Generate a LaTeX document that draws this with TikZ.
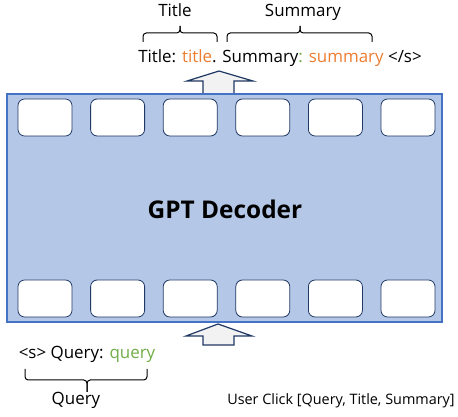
\documentclass[tikz,border=0pt]{standalone}
\usepackage{fontspec}
\setmainfont{Open Sans}
\usetikzlibrary{positioning}
\definecolor{decfill}{HTML}{B4C7E7}
\definecolor{decline}{HTML}{4472C4}
\definecolor{tokline}{HTML}{1F3864}
\definecolor{arrline}{HTML}{203864}
\definecolor{arrfill}{HTML}{F2F2F2}
\definecolor{orng}{HTML}{ED7D31}
\definecolor{grn}{HTML}{70AD47}
\tikzset{
  decoder/.style={draw=decline, fill=decfill, line width=1.2pt},
  token/.style={draw=tokline, fill=white, rounded corners=5pt, line width=0.6pt},
  blockarrow/.style={draw=arrline, fill=arrfill, line width=0.9pt},
  brk/.style={draw=black, line width=0.75pt, rounded corners=2.5pt},
  txt/.style={inner sep=0pt, anchor=base, font=\fontsize{12.7}{15}\selectfont},
  small/.style={inner sep=0pt, anchor=base, font=\fontsize{10.8}{13}\selectfont}
}
\begin{document}
\begin{tikzpicture}[x=0.75pt, y=-0.75pt]
  \useasboundingbox (0,0) rectangle (458,417);
  % decoder block
  \draw[decoder] (7,94) rectangle (442,322);
  \node[inner sep=0pt, font=\bfseries\fontsize{18.3}{21}\selectfont] (dec) at (225,209) {GPT Decoder};
  % token slots
  \foreach \i in {0,...,5} {
    \draw[token] (18+72.6*\i,99) rectangle ++(54,37);
    \draw[token] (18+72.6*\i,280) rectangle ++(54,37);
  }
  % block arrows
  \draw[blockarrow] (203,93) -- (203,81) -- (187,81) -- (219,71) -- (253,81) -- (234,81) -- (234,93);
  \draw[blockarrow] (203,345) -- (203,336) -- (186,336) -- (218,324) -- (252,336) -- (234,336) -- (234,345) -- cycle;
  % output sequence
  \node[txt] (out) at (280,63) {Title: \textcolor{orng}{title}. Summary\textcolor{grn}{:} \textcolor{orng}{summary} </s>};
  \draw[brk] (143,42) -- (143,33) -- (180,33) -- (180,26);
  \draw[brk] (180,26) -- (180,33) -- (217,33) -- (217,42);
  \draw[brk] (227,42) -- (227,33) -- (300,33) -- (300,26);
  \draw[brk] (300,26) -- (300,33) -- (372,33) -- (372,42);
  \node[txt] (ttl) at (175,17) {Title};
  \node[txt] (sum) at (303,17) {Summary};
  % input sequence
  \node[txt] (inp) at (87,359) {<s> Query: \textcolor{grn}{query}};
  \draw[brk] (25,369) -- (25,380) -- (87,380) -- (87,392);
  \draw[brk] (87,392) -- (87,380) -- (147,380) -- (147,369);
  \node[txt] (qry) at (76,405) {Query};
  \node[small] (clk) at (341,405) {User Click [Query, Title, Summary]};
\end{tikzpicture}
\end{document}
